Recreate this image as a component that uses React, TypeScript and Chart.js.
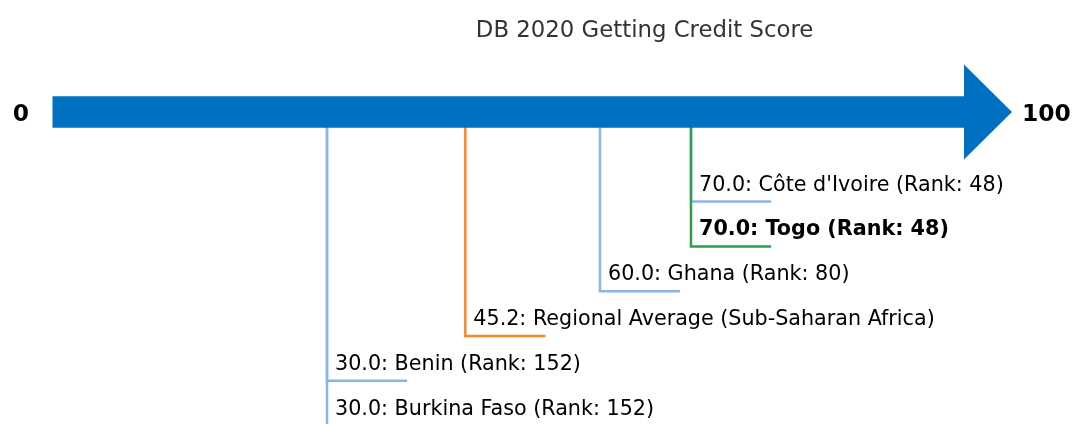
import React, { useEffect, useRef } from "react";
import { Chart, registerables } from "chart.js";

Chart.register(...registerables);

const titleText = "DB 2020 Getting Credit Score";
const axisMin = 0;
const axisMax = 100;
const names = [
  "Côte d'Ivoire",
  "Togo",
  "Ghana",
  "Regional Average (Sub-Saharan Africa)",
  "Benin",
  "Burkina Faso",
];
const scores = [70.0, 70.0, 60.0, 45.2, 30.0, 30.0];
const ranks: (number | null)[] = [48, 48, 80, null, 152, 152];
const highlight = "Togo";
const regionalName = "Regional Average (Sub-Saharan Africa)";

const ARROW = "#0070c0";
const BLUE = "#8ab4ee";
const ORANGE = "#f7862a";
const GREEN = "#2ea043";
const FONT = "'DejaVu Sans', sans-serif";

const TICK_LEN = 8.8; // horizontal foot length in axis units
const FIRST_ROW = 2;

function colorFor(name: string) {
  if (name === highlight) return GREEN;
  if (name === regionalName) return ORANGE;
  return BLUE;
}

function labelFor(i: number) {
  const s = scores[i].toFixed(1);
  return ranks[i] == null ? `${s}: ${names[i]}` : `${s}: ${names[i]} (Rank: ${ranks[i]})`;
}

export default function App() {
  const ref = useRef<HTMLCanvasElement | null>(null);

  useEffect(() => {
    if (!ref.current) return;

    const datasets = names.map((n, i) => {
      const row = FIRST_ROW + i;
      return {
        label: n,
        data: [
          { x: scores[i], y: 0 },
          { x: scores[i], y: row },
          { x: scores[i] + TICK_LEN, y: row },
        ],
        showLine: true,
        borderColor: colorFor(n),
        borderWidth: 2.5,
        pointRadius: 0,
        fill: false,
        tension: 0,
        order: n === highlight ? -1 : 0,
        borderJoinStyle: "miter" as const,
      };
    });

    const overlay = {
      id: "overlay",
      afterDatasetsDraw(chart: any) {
        const ctx = chart.ctx;
        const xs = chart.scales.x;
        const ys = chart.scales.y;
        const px = (v: number) => xs.getPixelForValue(v);
        const py = (v: number) => ys.getPixelForValue(v);

        // arrow
        const x0 = px(axisMin) - 1.5;
        const x1 = px(axisMax);
        const tip = x1 + 48;
        const yc = py(0);
        const bh = 15.8;
        const hh = 47.5;
        ctx.save();
        ctx.fillStyle = ARROW;
        ctx.beginPath();
        ctx.moveTo(x0, yc - bh);
        ctx.lineTo(x1, yc - bh);
        ctx.lineTo(x1, yc - hh);
        ctx.lineTo(tip, yc);
        ctx.lineTo(x1, yc + hh);
        ctx.lineTo(x1, yc + bh);
        ctx.lineTo(x0, yc + bh);
        ctx.closePath();
        ctx.fill();

        // end labels
        ctx.fillStyle = "#000";
        ctx.font = `bold 23.4px ${FONT}`;
        ctx.textBaseline = "middle";
        ctx.textAlign = "center";
        ctx.fillText(String(axisMin), px(axisMin) - 33, yc + 3);
        ctx.textAlign = "left";
        ctx.fillText(String(axisMax), tip + 10, yc + 3);

        // title
        ctx.fillStyle = "#333";
        ctx.font = `22.8px ${FONT}`;
        ctx.textAlign = "center";
        ctx.fillText(titleText, px(64.9), 31);

        // entry labels
        ctx.textAlign = "left";
        ctx.textBaseline = "alphabetic";
        names.forEach((n, i) => {
          const row = FIRST_ROW + i;
          ctx.fillStyle = "#000";
          ctx.font = n === highlight ? `bold 20.7px ${FONT}` : `20.7px ${FONT}`;
          ctx.fillText(labelFor(i), px(scores[i]) + 8, py(row) - 11);
        });
        ctx.restore();
      },
    };

    const chart = new Chart(ref.current, {
      type: "scatter",
      data: { datasets },
      options: {
        animation: false,
        responsive: false,
        maintainAspectRatio: false,
        layout: { padding: 0 },
        plugins: { legend: { display: false }, tooltip: { enabled: false }, title: { display: false } },
        scales: {
          x: { type: "linear", display: false, min: -5.934, max: 111.87 },
          y: { type: "linear", display: false, min: -2.5, max: 6.964, reverse: true },
        },
      },
      plugins: [overlay],
    });
    return () => chart.destroy();
  }, []);

  return (
    <div style={{ position: "absolute", left: 0, top: 0, width: 1072, height: 424, background: "#fff" }}>
      <canvas ref={ref} width={1072} height={424} style={{ width: 1072, height: 424, display: "block" }} />
    </div>
  );
}
